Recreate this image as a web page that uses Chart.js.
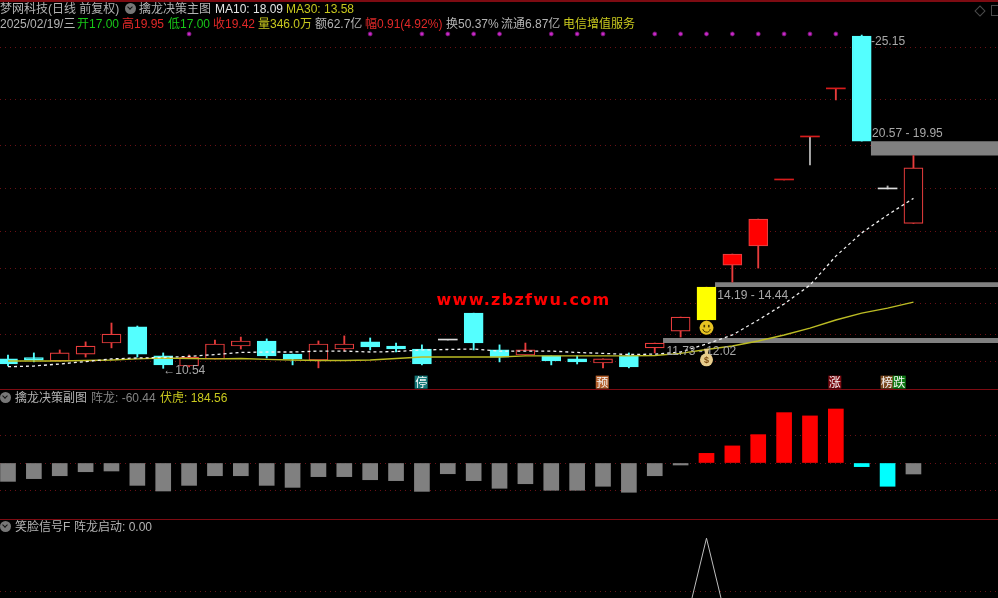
<!DOCTYPE html>
<html>
<head>
<meta charset="utf-8">
<title>梦网科技</title>
<script src="https://cdn.jsdelivr.net/npm/chart.js@4/dist/chart.umd.min.js"></script>
<style>
  html, body { margin: 0; padding: 0; background: #000; width: 998px; height: 598px; overflow: hidden; }
  canvas { position: absolute; left: 0; }
  #mainChart { top: 0; }
  #subChart { top: 390px; }
  #sigChart { top: 519px; }
  .rule { position: absolute; left: 0; width: 998px; background: #7d0b12; }
  .t { position: absolute; font: 12px "Liberation Sans", "Noto Sans CJK SC", sans-serif; line-height: 14px; white-space: nowrap; color: #b4b4b4; }
  .g { color: #18c818; }
  .r { color: #e02828; }
  .y { color: #c8c81e; }
  .w { color: #e4e4e4; }
  .d { color: #848484; }
  .chev { position: absolute; width: 11px; height: 11px; border-radius: 50%; background: #777; }
  .chev:after { content: ""; position: absolute; left: 3px; top: 2px; width: 3px; height: 3px; border: solid #111; border-width: 0 1.5px 1.5px 0; transform: rotate(45deg); }
  #mark { position: absolute; left: 431px; top: 292px; width: 185px; text-align: center; background: #000; color: #f00; font: bold 16px "DejaVu Sans", sans-serif; letter-spacing: 1.3px; line-height: 15px; }
  #diamond { position: absolute; left: 976px; top: 7px; width: 6px; height: 6px; border: 1px solid #4a4a4a; transform: rotate(45deg); }
  #square { position: absolute; left: 991px; top: 5px; width: 9px; height: 9px; border: 1px solid #4a4a4a; }
</style>
</head>
<body>
<canvas id="mainChart" width="998" height="390"></canvas>
<canvas id="subChart" width="998" height="129"></canvas>
<canvas id="sigChart" width="998" height="79"></canvas>

<div class="rule" style="top:0;height:2px"></div>
<div class="rule" style="top:389px;height:1px"></div>
<div class="rule" style="top:519px;height:1px"></div>
<div id="mark">www.zbzfwu.com</div>
<div id="diamond"></div>
<div id="square"></div>

<div class="t" style="left:0;top:2px">梦网科技(日线 前复权)</div>
<div class="chev" style="left:125px;top:3px"></div>
<div class="t" style="left:139px;top:2px">擒龙决策主图</div>
<div class="t w" style="left:215px;top:2px">MA10: 18.09</div>
<div class="t y" style="left:286px;top:2px">MA30: 13.58</div>

<div class="t" style="left:0;top:17px">2025/02/19/三</div>
<div class="t g" style="left:77px;top:17px">开17.00</div>
<div class="t r" style="left:122px;top:17px">高19.95</div>
<div class="t g" style="left:168px;top:17px">低17.00</div>
<div class="t r" style="left:213px;top:17px">收19.42</div>
<div class="t y" style="left:258px;top:17px">量346.0万</div>
<div class="t" style="left:315px;top:17px">额62.7亿</div>
<div class="t r" style="left:365px;top:17px">幅0.91(4.92%)</div>
<div class="t" style="left:446px;top:17px">换50.37%</div>
<div class="t" style="left:501px;top:17px">流通6.87亿</div>
<div class="t y" style="left:563px;top:17px">电信增值服务</div>

<div class="chev" style="left:0;top:392px"></div>
<div class="t" style="left:15px;top:391px">擒龙决策副图</div>
<div class="t d" style="left:91px;top:391px">阵龙: -60.44</div>
<div class="t y" style="left:160px;top:391px">伏虎: 184.56</div>

<div class="chev" style="left:0;top:521px"></div>
<div class="t" style="left:15px;top:520px">笑脸信号F</div>
<div class="t" style="left:74px;top:520px">阵龙启动: 0.00</div>

<script>
var openPrices  = [11.11,11.17,11.02,11.32,11.80,12.50,11.24,10.80,11.11,11.67,11.89,11.32,11.06,11.54,11.85,11.67,11.54,11.93,13.10,11.50,11.28,11.24,11.11,10.93,11.24,11.59,12.32,12.80,15.19,16.02,18.89,20.76,22.85,25.15,18.50,17.00];
var closePrices = [10.89,11.06,11.37,11.67,12.19,11.32,10.85,11.19,11.76,11.89,11.24,11.11,11.76,11.76,11.63,11.54,10.89,11.93,11.80,11.19,11.50,11.02,10.98,11.11,10.76,11.80,12.93,14.23,15.67,17.19,18.89,20.76,22.85,20.58,18.50,19.42];
var highPrices  = [11.28,11.37,11.50,11.85,12.67,12.54,11.37,11.28,11.93,12.06,11.98,11.32,11.89,12.11,12.02,11.80,11.72,11.93,13.10,11.72,11.80,11.24,11.24,11.11,11.37,11.80,12.93,14.23,15.67,17.19,18.89,20.76,22.85,25.19,18.63,19.95];
var lowPrices   = [10.80,10.98,11.02,11.19,11.59,11.19,10.70,10.76,11.11,11.54,11.15,10.85,10.72,11.46,11.50,11.41,10.85,11.93,11.50,10.98,11.28,10.85,10.89,10.72,10.72,11.37,12.06,12.80,14.45,15.06,18.89,19.54,22.37,20.58,18.50,17.00];
var ma10Values  = [10.77,10.80,10.89,10.99,11.11,11.15,11.17,11.22,11.30,11.39,11.41,11.41,11.45,11.45,11.41,11.43,11.50,11.52,11.54,11.45,11.45,11.45,11.39,11.35,11.30,11.32,11.41,11.76,12.15,12.80,13.50,14.32,15.58,16.59,17.37,18.09];
var ma30Values  = [11.02,11.02,11.02,11.04,11.06,11.11,11.15,11.13,11.11,11.13,11.09,11.06,11.04,11.04,11.06,11.13,11.19,11.19,11.19,11.19,11.24,11.24,11.24,11.24,11.24,11.26,11.35,11.52,11.67,11.89,12.15,12.45,12.80,13.10,13.32,13.58];

var solidDays = [28, 29];
var signalDay = 27;
var whiteFlatDays = [17, 34];
var greyWickDays = [17, 31, 34];

var dotDays = [7, 14, 16, 17, 18, 19, 21, 22, 23, 25, 26, 27, 28, 29, 30, 31, 32];
var dotPrice = 25.24;

var bandStart = [25.32, 27.33, 33.35];
var bandEnd = 38.27;
var bandTop = [12.02, 14.44, 20.57];
var bandBottom = [11.80, 14.24, 19.95];

var priceTicks = [24.63, 22.41, 20.37, 18.50, 16.67, 15.02, 13.54, 12.19, 10.98];

var noteTexts = ["-25.15", "20.57 - 19.95", "14.19 - 14.44", "11.73 - 12.02", "←10.54"];
var noteDays = [33.36, 33.4, 27.42, 25.45, 6.0];
var notePrices = [24.89, 20.89, 13.85, 11.41, 10.59];

var tagTexts = ["停", "预", "涨", "榜", "跌"];
var tagDays = [15.97, 22.97, 31.96, 33.98, 34.45];
var tagPrice = 10.1;
var tagColors = ["#147878", "#b4602c", "#7a0a10", "#7c4a20", "#0e7a14"];

var sideValues = [-101,-86,-70,-48,-44,-123,-154,-123,-70,-70,-123,-134,-75,-75,-92,-97,-156,-59,-97,-139,-114,-150,-150,-128,-161,-70,-11,53,94,156,277,259,297,-20,-128,-60.44];
var cyanSideDays = [33, 34];
var sideTicks = [150, 0, -150];

var signalValues = [0,0,0,0,0,0,0,0,0,0,0,0,0,0,0,0,0,0,0,0,0,0,0,0,0,0,0,1,0,0,0,0,0,0,0,0];
var signalTicks = [0.5];

var days = openPrices.map(function(v, i) { return i; });

function pairs(values) {
  return values.map(function(v, i) { return {x: i, y: v}; });
}

function bodyColor(i) {
  if (i == signalDay) return "#ffff00";
  if (solidDays.indexOf(i) >= 0) return "#ff0000";
  if (openPrices[i] == closePrices[i]) return whiteFlatDays.indexOf(i) >= 0 ? "#dcdcdc" : "#d81c1c";
  if (closePrices[i] > openPrices[i]) return "#000000";
  return "#54ffff";
}

function bodyBorder(i) {
  if (i == signalDay || openPrices[i] == closePrices[i]) return bodyColor(i);
  return closePrices[i] > openPrices[i] ? "#e83c3c" : "#54ffff";
}

function wickColor(i) {
  if (greyWickDays.indexOf(i) >= 0) return "#b0b0b0";
  return closePrices[i] >= openPrices[i] ? "#e83c3c" : "#54ffff";
}

function gridScale(ticks, min, max) {
  return {
    min: min,
    max: max,
    afterBuildTicks: function(scale) {
      scale.ticks = ticks.map(function(v) { return {value: v}; });
    },
    ticks: {display: false},
    border: {display: false, dash: [1, 4]},
    grid: {color: "#6a1016", drawTicks: false}
  };
}

var xScale = {type: "linear", min: -0.309, max: 38.268, offset: false, display: false};

var chartOptions = function(yScale) {
  return {
    responsive: false,
    animation: false,
    events: [],
    layout: {padding: 0, autoPadding: false},
    plugins: {legend: {display: false}, tooltip: {enabled: false}},
    scales: {x: xScale, y: yScale}
  };
};

// notes, tags and the two small icons sit on top of the main chart
var notesPlugin = {
  id: "notes",
  afterDatasetsDraw: function(chart) {
    var ctx = chart.ctx;
    var x = chart.scales.x;
    var y = chart.scales.y;
    ctx.save();
    ctx.textBaseline = "middle";
    ctx.font = '12px "Liberation Sans", sans-serif';
    ctx.fillStyle = "#a8a8a8";
    noteTexts.forEach(function(text, i) {
      ctx.fillText(text, x.getPixelForValue(noteDays[i]), y.getPixelForValue(notePrices[i]));
    });

    ctx.font = '12px "Noto Sans CJK SC", sans-serif';
    ctx.textAlign = "center";
    tagTexts.forEach(function(text, i) {
      var px = x.getPixelForValue(tagDays[i]);
      var py = y.getPixelForValue(tagPrice);
      ctx.fillStyle = tagColors[i];
      ctx.fillRect(px - 6.5, py - 6.5, 13, 13);
      ctx.fillStyle = "#f4f4f4";
      ctx.fillText(text, px, py);
    });

    var cx = x.getPixelForValue(signalDay);
    var cy = y.getPixelForValue(12.46);
    ctx.fillStyle = "#e8c422";
    ctx.beginPath();
    ctx.arc(cx, cy, 7, 0, Math.PI * 2);
    ctx.fill();
    ctx.fillStyle = "#4a3a00";
    ctx.fillRect(cx - 3, cy - 3, 1.6, 2.5);
    ctx.fillRect(cx + 1.5, cy - 3, 1.6, 2.5);
    ctx.strokeStyle = "#4a3a00";
    ctx.beginPath();
    ctx.arc(cx, cy + 0.5, 3.8, 0.2, Math.PI - 0.2);
    ctx.stroke();

    var by = y.getPixelForValue(11.07);
    ctx.fillStyle = "#e8cd8c";
    ctx.beginPath();
    ctx.arc(cx, by, 6.5, 0, Math.PI * 2);
    ctx.fill();
    ctx.beginPath();
    ctx.moveTo(cx - 2.5, by - 11);
    ctx.lineTo(cx + 2.5, by - 11);
    ctx.lineTo(cx + 1, by - 4);
    ctx.lineTo(cx - 1, by - 4);
    ctx.fill();
    ctx.fillStyle = "#7a4a10";
    ctx.font = 'bold 9px "Liberation Sans", sans-serif';
    ctx.fillText("$", cx, by + 0.5);
    ctx.restore();
  }
};

var mainSets = [];
bandTop.forEach(function(top, b) {
  mainSets.push({
    type: "line",
    data: [{x: bandStart[b], y: top}, {x: bandEnd, y: top}],
    borderWidth: 0,
    pointRadius: 0,
    backgroundColor: "#808080",
    fill: "+1",
    order: 9
  });
  mainSets.push({
    type: "line",
    data: [{x: bandStart[b], y: bandBottom[b]}, {x: bandEnd, y: bandBottom[b]}],
    borderWidth: 0,
    pointRadius: 0,
    fill: false,
    order: 9
  });
});
mainSets.push({
  type: "bar",
  label: "wick",
  data: days.map(function(i) { return {x: i, y: [lowPrices[i], highPrices[i]]}; }),
  barThickness: 1.2,
  grouped: false,
  backgroundColor: function(c) { return wickColor(c.dataIndex); },
  order: 5
});
mainSets.push({
  type: "bar",
  label: "body",
  data: days.map(function(i) { return {x: i, y: [openPrices[i], closePrices[i]]}; }),
  barThickness: 19,
  grouped: false,
  minBarLength: 1,
  borderSkipped: false,
  borderWidth: function(c) { return openPrices[c.dataIndex] == closePrices[c.dataIndex] ? 0 : 1.2; },
  backgroundColor: function(c) { return bodyColor(c.dataIndex); },
  borderColor: function(c) { return bodyBorder(c.dataIndex); },
  order: 4
});
mainSets.push({
  type: "line",
  label: "MA30",
  data: pairs(ma30Values),
  borderColor: "#bcbc24",
  borderWidth: 1.4,
  pointRadius: 0,
  tension: 0,
  fill: false,
  order: 3
});
mainSets.push({
  type: "line",
  label: "MA10",
  data: pairs(ma10Values),
  borderColor: "#f0f0f0",
  borderWidth: 1.3,
  borderDash: [3, 3],
  pointRadius: 0,
  tension: 0,
  fill: false,
  order: 2
});
mainSets.push({
  type: "line",
  label: "dots",
  data: dotDays.map(function(i) { return {x: i, y: dotPrice}; }),
  showLine: false,
  pointRadius: 2,
  pointBorderWidth: 1,
  pointBackgroundColor: "#c828c8",
  pointBorderColor: "rgba(110,20,110,0.8)",
  order: 1
});

new Chart("mainChart", {
  data: {datasets: mainSets},
  options: chartOptions(gridScale(priceTicks, 9.758, 26.715)),
  plugins: [notesPlugin]
});

new Chart("subChart", {
  data: {
    datasets: [{
      type: "bar",
      label: "阵龙",
      data: pairs(sideValues),
      barThickness: 15,
      backgroundColor: function(c) {
        var i = c.dataIndex;
        if (cyanSideDays.indexOf(i) >= 0) return "#00ffff";
        return sideValues[i] > 0 ? "#ff0000" : "#808080";
      }
    }]
  },
  options: chartOptions(gridScale(sideTicks, -308, 401.5))
});

new Chart("sigChart", {
  data: {
    datasets: [{
      type: "line",
      label: "阵龙启动",
      data: pairs(signalValues),
      borderColor: "#bdbdbd",
      borderWidth: 1,
      pointRadius: 0,
      tension: 0,
      fill: false
    }]
  },
  options: chartOptions(gridScale(signalTicks, 0.44, 1.18))
});
</script>
</body>
</html>
